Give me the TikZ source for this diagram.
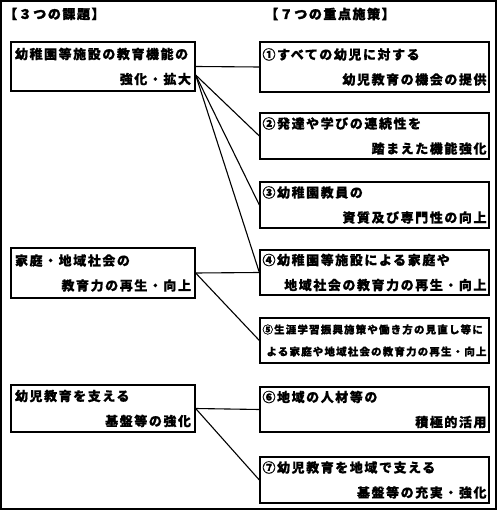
\documentclass[tikz,border=0pt]{standalone}
\usepackage{fontspec}
\setmainfont{Noto Sans CJK JP}
\newcommand\jtext{\fontsize{13}{25}\selectfont\bfseries\addfontfeature{LetterSpace=12,FakeBold=0.6}}
\newcommand\jtitle{\fontsize{13}{25}\selectfont\bfseries\addfontfeature{LetterSpace=12,FakeBold=2}}
\newcommand\jsmall{\fontsize{10.5}{22}\selectfont\bfseries\addfontfeature{LetterSpace=11,FakeBold=0.8}}
\newcommand\twoln[3]{\makebox[#1][l]{#2}\\\makebox[#1][r]{#3}}
\begin{document}
\begin{tikzpicture}[x=1pt,y=-1pt,
  box/.style={draw, line width=1.3pt, inner sep=0pt, align=center, font=\jtext},
  lbox/.style={box, minimum width=184pt},
  rbox/.style={box, minimum width=229pt},
  conn/.style={line width=1.1pt},
  ttl/.style={inner sep=0pt, anchor=west, font=\jtitle}]
\useasboundingbox (0,0) rectangle (497,510);
\draw[line width=1.2pt] (1,1) rectangle (496,509);
\node[ttl] (T1) at (4,14) {【３つの課題】};
\node[ttl] (T2) at (265,14) {【７つの重点施策】};
% left boxes
\node[lbox, minimum height=49pt] (L1) at (103,66.5) {\twoln{176pt}{幼稚園等施設の教育機能の}{強化・拡大}};
\node[lbox, minimum height=50pt] (L2) at (103,273) {\twoln{176pt}{家庭・地域社会の}{教育力の再生・向上}};
\node[lbox, minimum height=47pt] (L3) at (103,408.5) {\twoln{176pt}{幼児教育を支える}{基盤等の強化}};
% right boxes
\node[rbox, minimum height=50pt] (R1) at (374.5,67) {\twoln{224pt}{①すべての幼児に対する}{幼児教育の機会の提供}};
\node[rbox, minimum height=46pt] (R2) at (374.5,136) {\twoln{224pt}{②発達や学びの連続性を}{踏まえた機能強化}};
\node[rbox, minimum height=46pt] (R3) at (374.5,205) {\twoln{224pt}{③幼稚園教員の}{資質及び専門性の向上}};
\node[rbox, minimum height=45pt] (R4) at (374.5,272.5) {\twoln{224pt}{④幼稚園等施設による家庭や}{地域社会の教育力の再生・向上}};
\node[rbox, minimum height=45pt, font=\jsmall] (R5) at (374.5,340.5) {\twoln{224pt}{⑤生涯学習振興施策や働き方の見直し等に}{よる家庭や地域社会の教育力の再生・向上}};
\node[rbox, minimum height=45pt] (R6) at (374.5,409.5) {\twoln{224pt}{⑥地域の人材等の}{積極的活用}};
\node[rbox, minimum height=46pt] (R7) at (374.5,480) {\twoln{224pt}{⑦幼児教育を地域で支える}{基盤等の充実・強化}};
% connectors
\coordinate (F1) at ([yshift=-8.5pt]L1.east);
\draw[conn] (L1.east) -- (R1.west);
\draw[conn] (F1) -- (R2.west);
\draw[conn] (F1) -- (R3.west);
\draw[conn] (F1) -- (R4.west);
\draw[conn] (L2.east) -- (R4.west);
\draw[conn] (L2.east) -- (R5.west);
\draw[conn] (L3.east) -- (R6.west);
\draw[conn] (L3.east) -- (R7.west);
\end{tikzpicture}
\end{document}
